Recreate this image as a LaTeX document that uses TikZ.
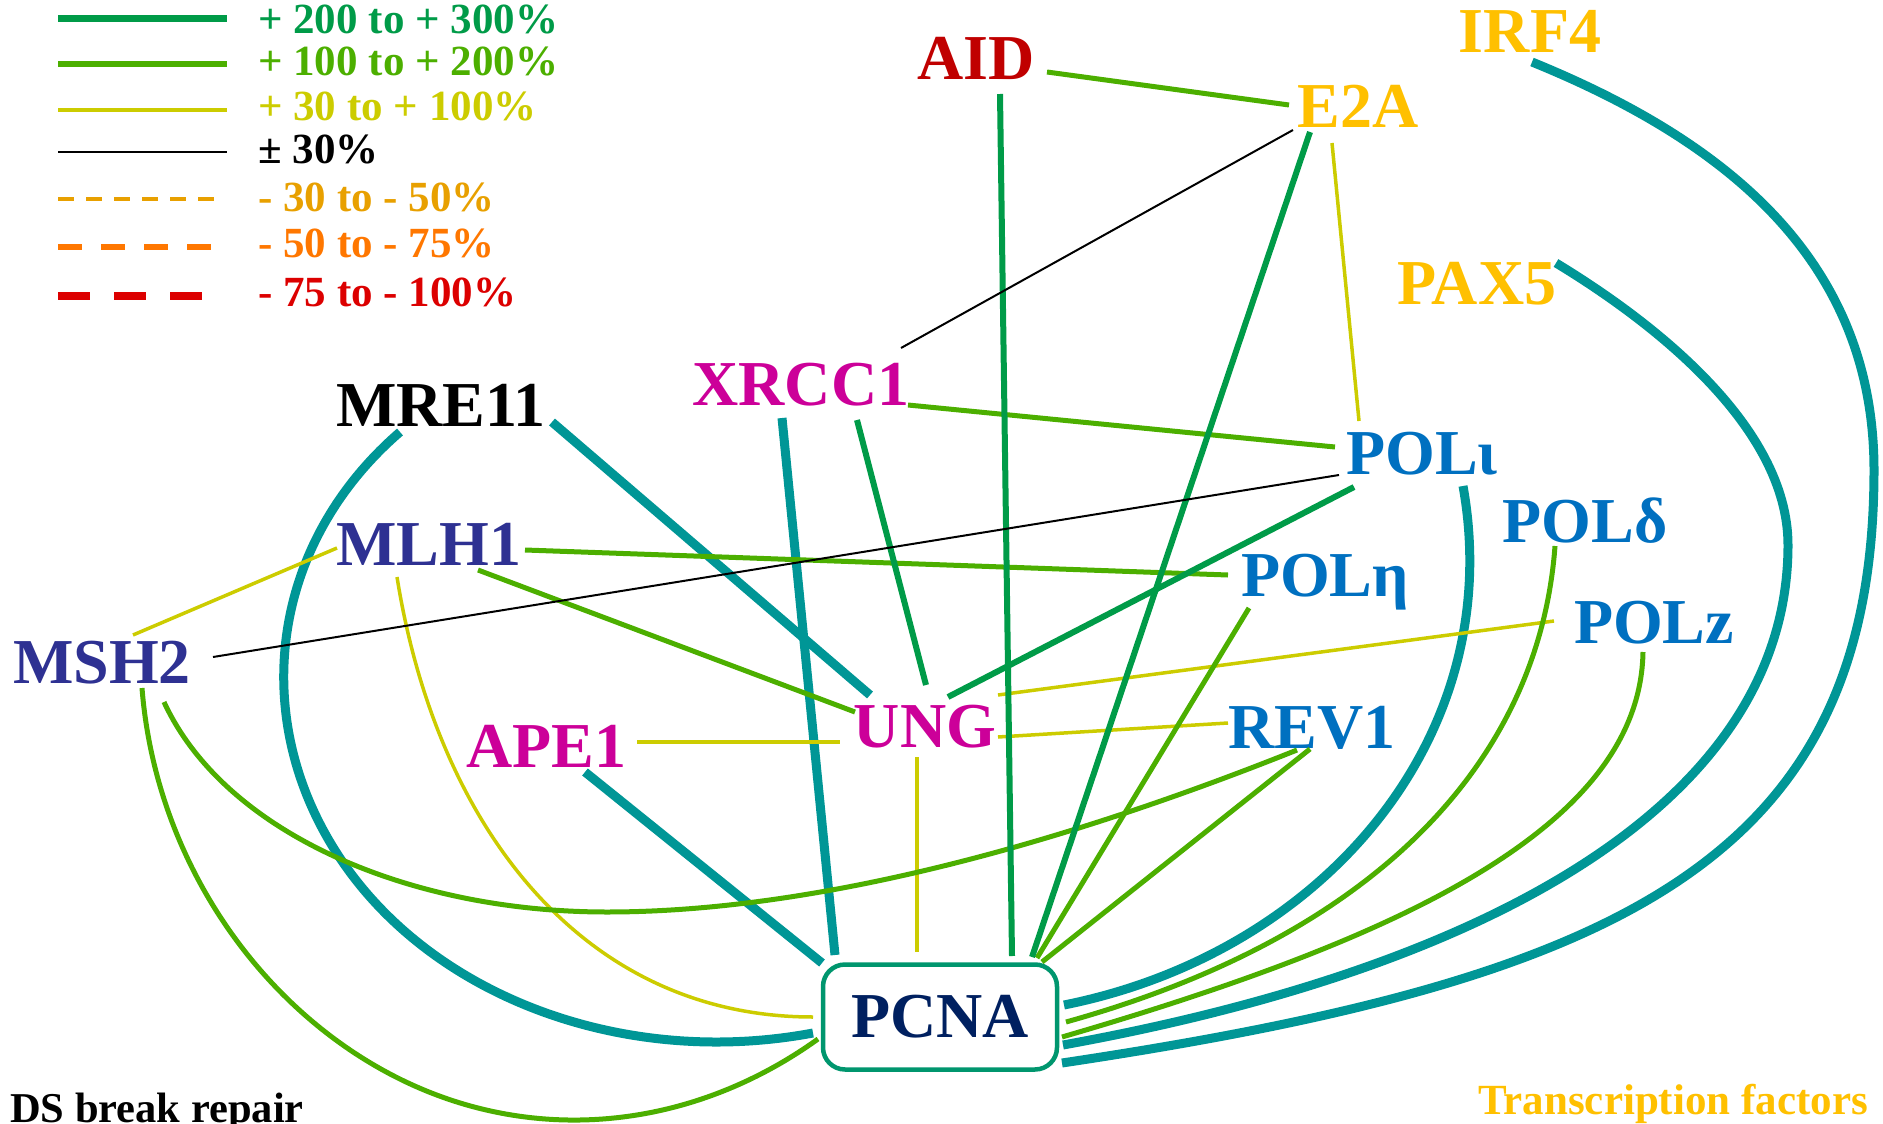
\documentclass[tikz,border=0pt]{standalone}
\usepackage{fontspec}
\setmainfont{Liberation Serif}
\definecolor{dkgreen}{RGB}{0,155,72}
\definecolor{lgreen}{RGB}{76,175,0}
\definecolor{ygreen}{RGB}{204,204,0}
\definecolor{ambr}{RGB}{232,160,0}
\definecolor{orng}{RGB}{255,119,0}
\definecolor{redc}{RGB}{220,0,0}
\definecolor{tealc}{RGB}{0,150,150}
\definecolor{boxc}{RGB}{0,150,110}
\definecolor{navy}{RGB}{0,32,96}
\definecolor{aidc}{RGB}{192,0,0}
\definecolor{gold}{RGB}{255,192,0}
\definecolor{magc}{RGB}{204,0,153}
\definecolor{indc}{RGB}{46,49,146}
\definecolor{bluec}{RGB}{0,112,192}
\begin{document}
\begin{tikzpicture}[x=1pt,y=-1pt,
  lbl/.style={inner sep=0pt, anchor=base, font=\fontsize{64}{64}\selectfont\bfseries},
  leg/.style={inner sep=0pt, anchor=base west, font=\fontsize{43}{43}\selectfont\bfseries},
  note/.style={inner sep=0pt, anchor=base west, font=\fontsize{42.5}{42.5}\selectfont\bfseries},
  e3/.style={draw=dkgreen, line width=6pt},
  e2/.style={draw=lgreen, line width=5pt},
  e1/.style={draw=ygreen, line width=3.5pt},
  e0/.style={draw=black, line width=2pt},
  et/.style={draw=tealc, line width=9pt},
]
\useasboundingbox (0,0) rectangle (1883,1124);

% legend
\draw[dkgreen, line width=7pt] (58,19) -- (227,19);
\draw[lgreen, line width=6pt] (58,64) -- (227,64);
\draw[ygreen, line width=4pt] (58,110) -- (227,110);
\draw[black, line width=2.5pt] (58,152) -- (227,152);
\draw[ambr, line width=4.5pt, dash pattern=on 16pt off 12pt] (58,199) -- (214,199);
\draw[orng, line width=6pt, dash pattern=on 24pt off 19pt] (58,247) -- (211,247);
\draw[redc, line width=8pt, dash pattern=on 32pt off 24pt] (58,296) -- (202,296);
\node[leg, text=dkgreen] (l1) at (258,34) {+ 200 to + 300\%};
\node[leg, text=lgreen] (l2) at (258,76) {+ 100 to + 200\%};
\node[leg, text=ygreen] (l3) at (258,121) {+ 30 to + 100\%};
\node[leg, text=black] (l4) at (258,163) {± 30\%};
\node[leg, text=ambr] (l5) at (258,211) {- 30 to - 50\%};
\node[leg, text=orng] (l6) at (258,257) {- 50 to - 75\%};
\node[leg, text=redc] (l7) at (258,306) {- 75 to - 100\%};

\node[note, text=black] (ds) at (10,1122) {DS break repair};
\node[note, text=gold, font=\fontsize{43}{43}\selectfont\bfseries] (tf) at (1478,1114) {Transcription factors};

% gene labels
\node[lbl, text=aidc] (aid) at (976,80) {AID};
\node[lbl, text=gold] (eza) at (1358,127) {E2A};
\node[lbl, text=gold] (irf) at (1530,53) {IRF4};
\node[lbl, text=gold] (pax) at (1477,304) {PAX5};
\node[lbl, text=magc] (xrcc) at (801,405) {XRCC1};
\node[lbl, text=black] (mre) at (441,426) {MRE11};
\node[lbl, text=indc] (mlh) at (429,565) {MLH1};
\node[lbl, text=indc] (msh) at (102,683) {MSH2};
\node[lbl, text=magc] (ape) at (546,767) {APE1};
\node[lbl, text=magc] (ung) at (925,747) {UNG};
\node[lbl, text=bluec] (rev) at (1312,748) {REV1};
\node[lbl, text=bluec] (poleta) at (1325,596) {POLη};
\node[lbl, text=bluec] (poliota) at (1422,474) {POLι};
\node[lbl, text=bluec] (poldelta) at (1585,542) {POLδ};
\node[lbl, text=bluec] (polz) at (1654,643) {POLz};
\coordinate (pcna) at (940,1017);

% teal (DS break / PCNA binding)
\draw[et] ([shift={(111,-4)}]mre.base) -- ([shift={(-55,-52)}]ung.base);
\draw[et] ([shift={(-41,6)}]mre.base) .. controls +(-132,114) and +(-94,-138) .. (342,861)
   .. controls +(94,138) and +(-186,35) .. ([shift={(-127,16)}]pcna);
\draw[et] ([shift={(-19,13)}]xrcc.base) -- ([shift={(-105,-62)}]pcna);
\draw[et] ([shift={(39,5)}]ape.base) -- ([shift={(-118,-54)}]pcna);
\draw[et] ([shift={(41,12)}]poliota.base) .. controls +(45,250) and +(260,-52) .. ([shift={(124,-12)}]pcna);
\draw[et] ([shift={(79,-41)}]pax.base) .. controls +(94,57) and +(0,-120) .. (1788,545)
   .. controls +(0,260) and +(420,-76) .. ([shift={(123,28)}]pcna);
\draw[et] ([shift={(2,9)}]irf.base) .. controls +(194,79) and +(0,-210) .. (1874,470)
   .. controls +(0,390) and +(560,-84) .. ([shift={(122,46)}]pcna);

% yellow-green
\draw[e1] ([shift={(-26,16)}]eza.base) -- ([shift={(-63,-53)}]poliota.base);
\draw[e1] ([shift={(31,-48)}]msh.base) -- ([shift={(-92,-17)}]mlh.base);
\draw[e1] ([shift={(-32,12)}]mlh.base) .. controls +(40,250) and +(-230,0) .. ([shift={(-127,0)}]pcna);
\draw[e1] ([shift={(91,-25)}]ape.base) -- ([shift={(-85,-5)}]ung.base);
\draw[e1] ([shift={(-8,10)}]ung.base) -- ([shift={(-23,-65)}]pcna);
\draw[e1] ([shift={(73,-52)}]ung.base) -- ([shift={(-100,-22)}]polz.base);
\draw[e1] ([shift={(73,-10)}]ung.base) -- ([shift={(-84,-25)}]rev.base);

% green
\draw[e2] ([shift={(71,-8)}]aid.base) -- ([shift={(-69,-22)}]eza.base);
\draw[e2] ([shift={(107,0)}]xrcc.base) -- ([shift={(-87,-27)}]poliota.base);
\draw[e2] ([shift={(96,-15)}]mlh.base) -- ([shift={(-97,-21)}]poleta.base);
\draw[e2] ([shift={(49,5)}]mlh.base) -- ([shift={(-70,-35)}]ung.base);
\draw[e2] ([shift={(-76,12)}]poleta.base) -- ([shift={(97,-59)}]pcna);
\draw[e2] ([shift={(-2,1)}]rev.base) -- ([shift={(102,-55)}]pcna);
\draw[e2] ([shift={(-30,4)}]poldelta.base) .. controls +(-15,205) and +(323,-90) .. ([shift={(126,5)}]pcna);
\draw[e2] ([shift={(-11,9)}]polz.base) .. controls +(-3,178) and +(330,-96) .. ([shift={(122,20)}]pcna);
\draw[e2] ([shift={(40,5)}]msh.base) .. controls +(13,166) and +(-138,-72) .. (392,1075)
   .. controls +(138,72) and +(-128,92) .. ([shift={(-122,22)}]pcna);
\draw[e2] ([shift={(62,19)}]msh.base) .. controls +(60,130) and +(-200,0) .. (607,912)
   .. controls +(230,0) and +(-200,80) .. ([shift={(-15,2)}]rev.base);

% dark green
\draw[e3] ([shift={(24,14)}]aid.base) -- ([shift={(72,-61)}]pcna);
\draw[e3] ([shift={(-48,5)}]eza.base) -- ([shift={(92,-60)}]pcna);
\draw[e3] ([shift={(56,15)}]xrcc.base) -- ([shift={(1,-62)}]ung.base);
\draw[e3] ([shift={(-68,13)}]poliota.base) -- ([shift={(23,-50)}]ung.base);

% black
\draw[e0] ([shift={(100,-57)}]xrcc.base) -- ([shift={(-65,3)}]eza.base);
\draw[e0] ([shift={(111,-26)}]msh.base) -- ([shift={(-83,1)}]poliota.base);

% PCNA box
\node[draw=boxc, fill=white, line width=4.5pt, rounded corners=22pt,
      minimum width=234pt, minimum height=105pt, inner sep=0pt,
      text=navy, font=\fontsize{64}{64}\selectfont\bfseries] (pcnabox) at (pcna) {PCNA};
\end{tikzpicture}
\end{document}
